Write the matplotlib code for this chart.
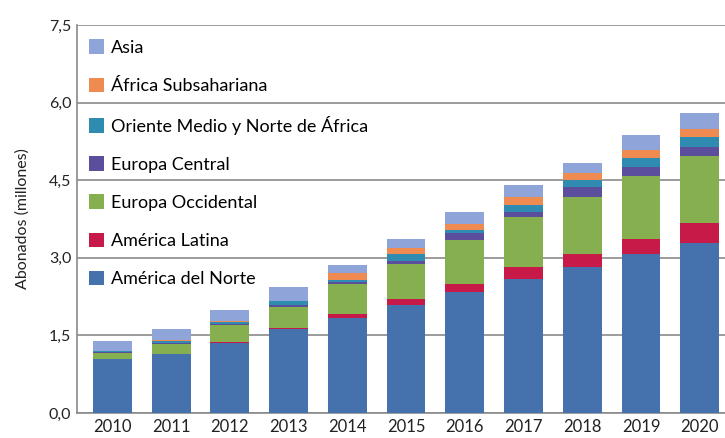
import numpy as np
import matplotlib.pyplot as plt
from matplotlib.patches import Patch

years = ['2010', '2011', '2012', '2013', '2014', '2015', '2016', '2017', '2018', '2019', '2020']

america_norte = [1.04, 1.14, 1.36, 1.62, 1.83, 2.08, 2.34, 2.60, 2.82, 3.08, 3.28]
america_latina = [0.00, 0.01, 0.01, 0.02, 0.08, 0.12, 0.16, 0.22, 0.26, 0.29, 0.39]
europa_occ = [0.12, 0.18, 0.33, 0.41, 0.59, 0.68, 0.84, 0.96, 1.10, 1.22, 1.29]
europa_cen = [0.01, 0.02, 0.02, 0.03, 0.03, 0.06, 0.13, 0.11, 0.18, 0.16, 0.18]
oriente_medio = [0.02, 0.05, 0.04, 0.08, 0.04, 0.14, 0.06, 0.14, 0.14, 0.17, 0.20]
africa_sub = [0.00, 0.01, 0.01, 0.01, 0.14, 0.10, 0.13, 0.15, 0.13, 0.16, 0.14]
asia = [0.21, 0.21, 0.22, 0.26, 0.16, 0.19, 0.23, 0.22, 0.21, 0.29, 0.31]

series = [
    ('América del Norte', america_norte, '#4571ad'),
    ('América Latina', america_latina, '#c71a48'),
    ('Europa Occidental', europa_occ, '#86b04f'),
    ('Europa Central', europa_cen, '#5b4f9d'),
    ('Oriente Medio y Norte de África', oriente_medio, '#2f8bb0'),
    ('África Subsahariana', africa_sub, '#ef8a50'),
    ('Asia', asia, '#8fa5da'),
]

plt.rcParams['font.family'] = ['Lato', 'DejaVu Sans']

fig = plt.figure(figsize=(7.25, 4.38), dpi=100)
ax = fig.add_axes([0.106, 0.057, 0.894, 0.886])

x = np.arange(len(years))
bottom = np.zeros(len(years))
for name, vals, color in series:
    ax.bar(x, vals, 0.66, bottom=bottom, color=color, zorder=3)
    bottom += np.array(vals)

ax.set_xlim(-0.605, 10.43)
ax.set_ylim(0, 7.5)
ax.set_yticks([0, 1.5, 3.0, 4.5, 6.0, 7.5])
ax.set_yticklabels(['0,0', '1,5', '3,0', '4,5', '6,0', '7,5'], fontsize=11.5)
ax.set_xticks(x)
ax.set_xticklabels(years, fontsize=12)
ax.tick_params(length=0, pad=4, colors='#222222')
ax.yaxis.grid(True, color='#8a8a8a', linewidth=1.2, zorder=0)
ax.set_axisbelow(True)
for s in ['top', 'right']:
    ax.spines[s].set_visible(False)
for s in ['left', 'bottom']:
    ax.spines[s].set_color('#8a8a8a')
    ax.spines[s].set_linewidth(1.2)

ax.set_ylabel('Abonados (millones)', fontsize=11.5, color='#222222', labelpad=14)

handles = [Patch(facecolor=c, label=n) for n, v, c in series][::-1]
ax.legend(handles=handles, loc='upper left', bbox_to_anchor=(-0.004, 1.0), frameon=False,
          fontsize=13, handlelength=0.85, handleheight=0.85, handletextpad=0.4,
          labelspacing=1.2, borderaxespad=0.4)

plt.savefig('out.png', dpi=100)
